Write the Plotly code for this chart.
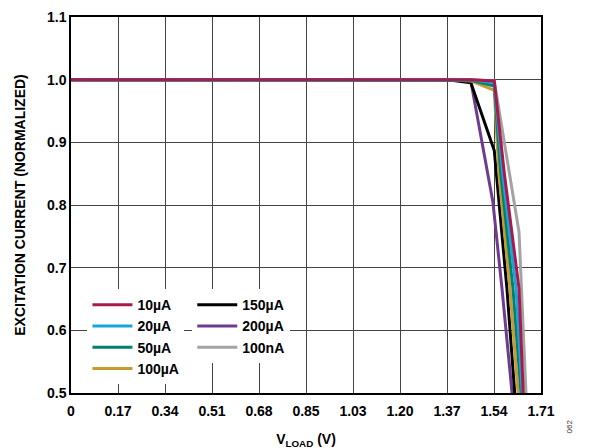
import plotly.graph_objects as go

# ---- data ----
x_tick_vals = [0, 0.171, 0.342, 0.513, 0.684, 0.855, 1.026, 1.197, 1.368, 1.539, 1.71]
x_tick_text = ["0", "0.17", "0.34", "0.51", "0.68", "0.85", "1.03", "1.20", "1.37", "1.54", "1.71"]

v_10uA = [0, 1.37, 1.455, 1.540, 1.577, 1.630, 1.644, 1.650]
i_10uA = [1.0, 1.0, 1.0, 0.998, 0.849, 0.667, 0.503, 0.45]

v_20uA = [0, 1.37, 1.455, 1.540, 1.571, 1.619, 1.641, 1.649]
i_20uA = [1.0, 1.0, 1.0, 0.995, 0.849, 0.667, 0.503, 0.45]

v_50uA = [0, 1.37, 1.455, 1.540, 1.564, 1.608, 1.637, 1.646]
i_50uA = [1.0, 1.0, 0.999, 0.990, 0.849, 0.667, 0.503, 0.45]

v_100uA = [0, 1.37, 1.455, 1.540, 1.557, 1.597, 1.626, 1.635]
i_100uA = [1.0, 1.0, 0.998, 0.983, 0.849, 0.667, 0.503, 0.45]

v_150uA = [0, 1.37, 1.455, 1.540, 1.586, 1.615, 1.623]
i_150uA = [1.0, 1.0, 0.995, 0.887, 0.667, 0.503, 0.45]

v_200uA = [0, 1.37, 1.455, 1.535, 1.568, 1.604, 1.610]
i_200uA = [1.0, 1.0, 0.997, 0.805, 0.667, 0.503, 0.45]

v_100nA = [0, 1.37, 1.455, 1.540, 1.630, 1.655, 1.661]
i_100nA = [1.0, 1.0, 1.0, 0.998, 0.757, 0.503, 0.45]

# draw order: bottom to top
series = [
    ("100nA", v_100nA, i_100nA, "#A3A3A3", "legend2"),
    ("200µA", v_200uA, i_200uA, "#6E3B8E", "legend2"),
    ("150µA", v_150uA, i_150uA, "#000000", "legend2"),
    ("100µA", v_100uA, i_100uA, "#C89B2E", "legend"),
    ("50µA", v_50uA, i_50uA, "#00806F", "legend"),
    ("20µA", v_20uA, i_20uA, "#1BA3DB", "legend"),
    ("10µA", v_10uA, i_10uA, "#A8194E", "legend"),
]

FONT = "Arial, Liberation Sans, Helvetica, sans-serif"

fig = go.Figure()
for name, xs, ys, col, lg in series:
    fig.add_trace(go.Scatter(
        x=xs, y=ys, mode="lines", name=name,
        line=dict(color=col, width=3),
        legend=lg,
    ))

legend_common = dict(
    bgcolor="white",
    borderwidth=0,
    font=dict(family=FONT, size=14, color="black", weight="bold"),
    traceorder="reversed",
    orientation="v",
    itemwidth=40,
    tracegroupgap=0,
    yanchor="top",
    xanchor="left",
)

fig.update_layout(
    width=602, height=448,
    margin=dict(l=63, r=69, t=9, b=63, autoexpand=False),
    paper_bgcolor="white",
    plot_bgcolor="white",
    font=dict(family=FONT, size=13, color="black"),
    showlegend=True,
    legend=dict(x=0.035, y=0.276, **legend_common),
    legend2=dict(x=0.258, y=0.276, **legend_common),
    xaxis=dict(
        range=[0, 1.71],
        tickvals=x_tick_vals, ticktext=x_tick_text,
        showgrid=True, gridcolor="#444444", gridwidth=1,
        zeroline=False, automargin=False,
        showline=True, linecolor="black", linewidth=1.5, mirror=True,
        ticks="", ticklabelstandoff=4,
        tickfont=dict(family=FONT, size=14, color="black", weight="bold"),
        title=dict(text="V<sub>LOAD</sub> (V)", standoff=17,
                   font=dict(family=FONT, size=14, color="black", weight="bold")),
    ),
    yaxis=dict(
        range=[0.5, 1.1], dtick=0.1, tick0=0.5, tickformat=".1f",
        showgrid=True, gridcolor="#444444", gridwidth=1,
        zeroline=False, automargin=False,
        showline=True, linecolor="black", linewidth=1.5, mirror=True,
        ticks="",
        tickfont=dict(family=FONT, size=14, color="black", weight="bold"),
        title=dict(text="EXCITATION CURRENT (NORMALIZED)", standoff=18,
                   font=dict(family=FONT, size=14, color="black", weight="bold")),
    ),
    annotations=[
        dict(text="062", x=1.074, y=-0.112, xref="paper", yref="paper",
             showarrow=False, textangle=-90,
             font=dict(family=FONT, size=8, color="#333333")),
    ],
)

fig.write_html("out.html")
